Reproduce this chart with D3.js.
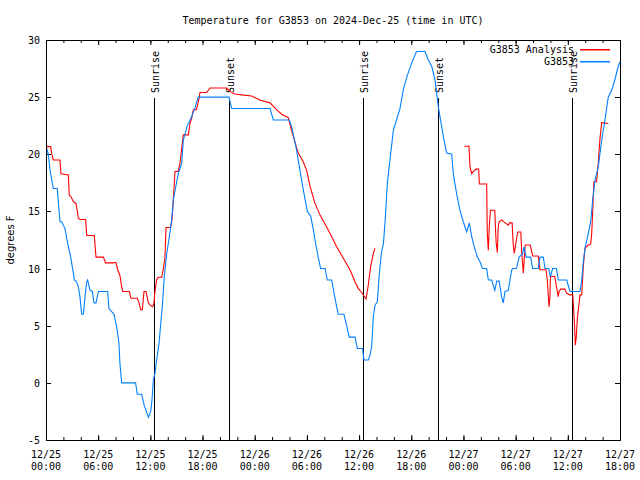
<!DOCTYPE html>
<html><head><meta charset="utf-8">
<script src="https://cdn.jsdelivr.net/npm/d3@7"></script>
<style>
body{margin:0;background:#fff;}
text{font-family:"DejaVu Sans Mono",monospace;font-size:10px;fill:#000;}
</style></head>
<body><svg id="c" width="640" height="480"></svg>
<script>
// hours since 2024-12-25 00:00 UTC
const obsHours = [0.05,0.27,0.46,0.65,0.84,1.3,1.45,1.61,1.8,2.18,2.49,2.84,3.14,3.26,3.52,3.72,3.91,4.1,4.3,4.48,4.68,4.79,5.06,5.33,5.52,5.75,6.02,7.09,7.24,7.82,8.13,8.39,8.5,8.7,10.3,10.5,11.0,11.3,11.77,12.04,12.19,12.34,12.53,12.72,13.0,13.19,13.38,13.6,13.88,14.18,14.45,14.64,15.2,15.6,15.79,16.2,16.75,17.1,17.5,21.04,21.35,25.76,26.14,27.98,28.25,28.5,28.8,29.2,29.58,30.05,30.43,30.74,30.93,31.3,31.58,32.1,32.34,32.85,33.2,33.6,34.26,34.57,34.87,35.53,35.8,36.4,36.56,37.06,37.25,37.45,37.64,37.83,38.1,38.3,38.55,38.8,39.0,39.25,39.55,39.94,40.3,40.7,41.1,41.5,42.05,42.6,43.58,43.96,44.35,44.73,45.1,45.3,45.7,46.07,46.65,46.83,47.2,47.6,47.98,48.37,48.67,48.95,49.2,49.6,49.9,50.2,50.67,50.86,51.24,51.6,51.83,52.1,52.4,52.58,52.78,53.15,53.55,53.7,54.1,54.4,54.8,54.96,55.2,55.73,55.96,56.6,56.8,57.18,57.38,57.8,58.0,58.25,58.7,58.9,59.87,60.25,61.4,61.6,61.78,61.98,62.36,62.63,62.86,63.13,63.5,63.9,64.27,64.65,65.04,65.4,65.8,66.0];
const obsTemps = [20.6,20.0,18.6,17.8,17.0,17.0,15.5,14.1,14.1,13.5,12.2,11.0,9.6,9.0,8.85,8.4,7.5,6.0,6.0,7.5,8.85,9.0,8.1,8.0,7.0,7.0,8.0,8.0,6.5,6.0,4.9,3.45,1.7,0.0,0.0,-1.0,-1.0,-2.0,-3.0,-2.5,-1.5,0.25,0.83,2.0,3.45,5.2,6.7,9.3,11.3,12.8,14.25,16.0,18.3,19.2,21.25,22.4,23.3,24.0,25.0,25.0,24.0,24.0,23.0,23.0,22.4,21.5,20.4,18.6,16.9,15.0,14.6,13.4,12.5,11.0,10.0,10.0,9.0,9.0,7.5,6.0,6.0,5.0,4.0,4.0,3.0,3.0,2.0,2.0,2.4,3.2,5.8,6.8,7.1,9.3,11.3,12.2,14.25,17.5,19.5,22.1,23.0,24.0,25.7,26.8,28.0,29.0,29.0,28.25,27.7,26.5,24.2,23.3,21.5,20.1,20.0,18.3,16.6,15.1,14.1,13.2,14.0,12.8,12.0,11.0,10.6,10.0,10.0,9.0,9.0,8.1,8.9,8.9,7.5,7.0,8.0,8.1,9.9,10.0,10.0,11.0,11.3,11.9,11.0,11.0,10.0,10.0,11.0,11.0,10.0,10.0,9.3,10.0,10.0,9.0,9.0,8.0,8.0,9.0,10.6,11.8,13.1,14.1,16.0,17.75,18.9,21.25,23.0,25.0,25.6,26.5,27.7,28.1];
const anaHours = [0.0,0.54,0.65,0.84,1.6,1.72,2.57,2.68,2.87,3.14,3.45,3.72,3.91,4.56,4.68,5.55,5.75,6.59,6.86,7.74,8.05,8.24,8.5,8.7,8.81,9.58,9.77,10.5,10.7,10.89,11.08,11.27,11.5,11.77,11.96,12.27,12.42,12.53,12.72,12.9,13.3,13.5,13.68,13.8,14.33,14.48,14.64,14.83,15.2,15.4,15.79,16.36,16.56,16.75,16.94,17.3,17.63,17.7,18.47,18.86,20.77,21.15,21.7,22.5,23.65,24.6,25.76,26.5,27.1,27.86,28.13,28.5,29.0,29.58,29.97,30.36,30.93,31.5,32.0,32.65,33.42,34.19,34.95,35.53,35.9,36.4,36.8,37.06,37.33,37.64,37.83,43.0,48.1,48.64,48.75,48.95,49.14,49.45,49.75,49.83,50.67,50.74,50.86,50.97,51.1,51.6,51.75,51.9,52.0,52.1,52.4,52.8,53.15,53.3,53.6,53.7,53.83,53.9,54.05,54.24,54.6,54.7,54.8,54.88,54.96,55.1,55.68,55.96,56.6,56.8,57.5,57.64,57.84,57.95,58.0,58.5,58.7,58.9,59.0,59.16,59.66,59.85,60.25,60.56,60.67,60.78,60.86,60.97,61.1,61.25,61.4,61.6,61.78,61.98,62.36,62.63,62.75,62.86,63.0,63.3,63.5,63.7,63.9,64.66];
const anaTemps = [20.67,20.67,20.1,19.5,19.5,18.3,18.2,16.4,16.3,15.85,15.7,14.4,14.3,14.3,12.9,12.9,11.0,11.0,10.5,10.5,10.55,9.9,9.4,8.4,8.0,8.0,7.4,7.4,7.0,6.4,6.4,8.0,8.0,7.0,6.8,6.67,7.0,8.0,9.0,9.24,9.24,10.0,11.0,13.6,13.6,14.25,16.0,18.5,18.5,19.2,21.7,21.7,22.7,23.15,23.9,23.9,25.0,25.4,25.4,25.8,25.8,25.5,25.27,25.2,25.1,24.75,24.5,23.9,23.5,23.2,22.4,21.4,20.1,19.35,18.6,17.2,15.7,14.7,14.0,13.1,11.9,10.9,9.9,8.85,8.27,7.8,7.34,8.56,10.2,11.33,11.77,null,20.7,20.7,18.9,18.3,18.5,18.7,18.7,17.4,17.4,13.1,11.6,13.7,15.1,15.1,12.35,11.4,13.7,14.1,14.25,14.0,13.8,14.0,14.0,12.35,11.33,11.6,12.35,13.2,13.2,11.33,10.46,9.6,10.5,12.06,12.06,11.1,11.1,9.9,9.9,9.0,6.67,7.55,9.3,9.3,8.4,7.55,8.0,8.2,8.2,7.84,7.7,7.7,6.5,4.9,3.3,4.0,5.65,6.67,7.7,7.7,10.2,11.8,12.06,12.15,13.1,15.0,17.6,17.6,19.2,21.4,22.77,22.7];
const sunHours = [12.42,21.04,36.45,45.07,60.48];
const sunLabels = ["Sunrise","Sunset","Sunrise","Sunset","Sunrise"];
const yTicks = [-5,0,5,10,15,20,25,30];
const seriesNames = ["G3853 Analysis","G3853"];
const seriesColors = ["#ff0000","#0080ff"];

const t0 = Date.UTC(2024,11,25,0,0);
const toDate = h => new Date(t0 + h*3600000);
const svg = d3.select("#c");
const L=46,R=620,T=40,B=440;
const x = d3.scaleUtc().domain([toDate(0),toDate(66)]).range([L,R]);
const y = d3.scaleLinear().domain([-5,30]).range([B,T]);

const minor = d3.range(0,67,2).map(toDate);
const major = d3.range(0,67,6).map(toDate);
const g = svg.append("g");
g.selectAll(".mb").data(minor).join("line").attr("x1",d=>x(d)+.5).attr("x2",d=>x(d)+.5).attr("y1",B).attr("y2",B-3).attr("stroke","#000");
g.selectAll(".mt").data(minor).join("line").attr("x1",d=>x(d)+.5).attr("x2",d=>x(d)+.5).attr("y1",T).attr("y2",T+3).attr("stroke","#000");
g.selectAll(".Mb").data(major).join("line").attr("x1",d=>x(d)+.5).attr("x2",d=>x(d)+.5).attr("y1",B).attr("y2",B-5).attr("stroke","#000");
g.selectAll(".Mt").data(major).join("line").attr("x1",d=>x(d)+.5).attr("x2",d=>x(d)+.5).attr("y1",T).attr("y2",T+5).attr("stroke","#000");
g.selectAll(".yl").data(yTicks).join("line").attr("x1",L).attr("x2",L+5).attr("y1",d=>Math.round(y(d))+.5).attr("y2",d=>Math.round(y(d))+.5).attr("stroke","#000");
g.selectAll(".yr").data(yTicks).join("line").attr("x1",R-5).attr("x2",R).attr("y1",d=>Math.round(y(d))+.5).attr("y2",d=>Math.round(y(d))+.5).attr("stroke","#000");

const fmtD = d3.utcFormat("%m/%d"), fmtT = d3.utcFormat("%H:%M");
const xl = svg.append("g").selectAll("text").data(major).join("text").attr("text-anchor","middle");
xl.append("tspan").attr("x",d=>x(d)).attr("y",458).text(fmtD);
xl.append("tspan").attr("x",d=>x(d)).attr("y",470).text(fmtT);
svg.append("g").selectAll("text").data(yTicks).join("text").attr("x",40).attr("y",d=>y(d)+4).attr("text-anchor","end").text(d=>d);

const sg = svg.append("g");
sunHours.forEach((h,i)=>{
  const xx = Math.round(x(toDate(h)))+.5;
  sg.append("line").attr("x1",xx).attr("x2",xx).attr("y1",98).attr("y2",B).attr("stroke","#000");
  sg.append("text").attr("transform",`translate(${xx+4},93) rotate(-90)`).attr("text-anchor","start").text(sunLabels[i]);
});

const line = d3.line().defined(d=>d[1]!==null).x(d=>x(toDate(d[0]))).y(d=>y(d[1]));
const anaData = anaHours.map((h,i)=>[h,anaTemps[i]]);
const obsData = obsHours.map((h,i)=>[h,obsTemps[i]]);
svg.append("path").attr("d",line(anaData)).attr("fill","none").attr("stroke",seriesColors[0]).attr("stroke-width",1.1);
svg.append("path").attr("d",line(obsData)).attr("fill","none").attr("stroke",seriesColors[1]).attr("stroke-width",1.1);

svg.append("rect").attr("x",L+.5).attr("y",T+.5).attr("width",R-L).attr("height",B-T).attr("fill","none").attr("stroke","#000");

seriesNames.forEach((n,i)=>{
  const ly = 49 + i*12;
  svg.append("text").attr("x",574).attr("y",ly+4).attr("text-anchor","end").text(n);
  svg.append("rect").attr("x",580).attr("y",ly).attr("width",30).attr("height",1.5).attr("fill",seriesColors[i]);
});

svg.append("text").attr("x",333).attr("y",24).attr("text-anchor","middle").text("Temperature for G3853 on 2024-Dec-25 (time in UTC)");
svg.append("text").attr("transform","translate(14,240) rotate(-90)").attr("text-anchor","middle").style("font-family","'DejaVu Sans',sans-serif").text("degrees F");
</script></body></html>
